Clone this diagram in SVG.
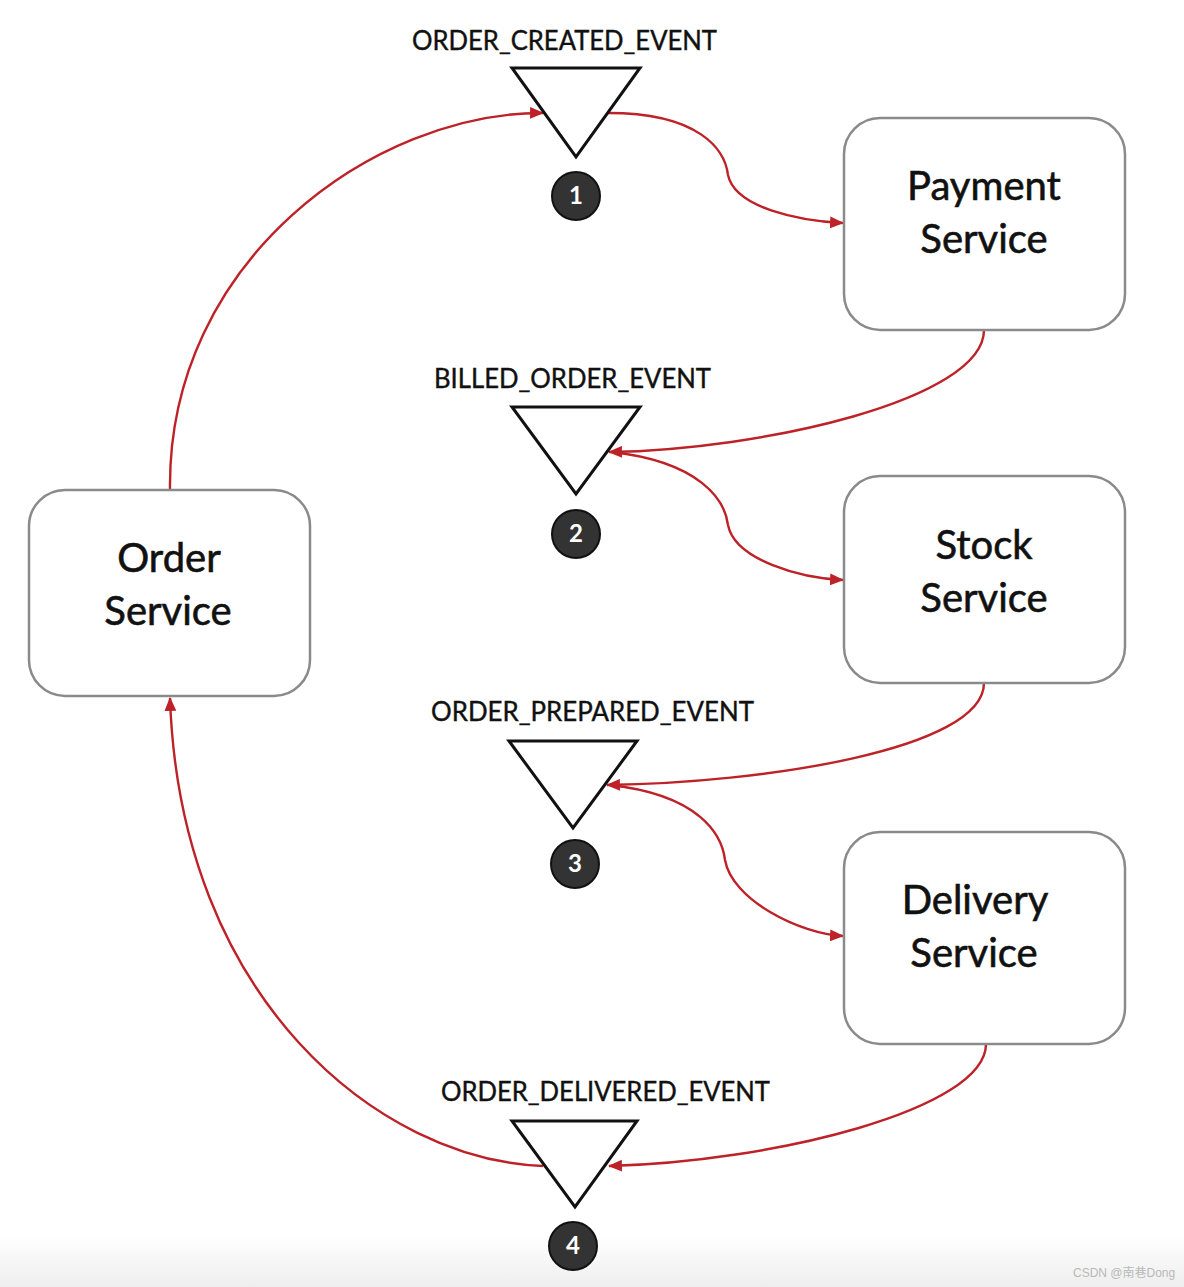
<svg xmlns="http://www.w3.org/2000/svg" width="1184" height="1287" viewBox="0 0 1184 1287">
<style>
.box{fill:#fff;stroke:#8a8a8a;stroke-width:2.5}
.tri{fill:#fff;stroke:#111;stroke-width:3;stroke-linejoin:miter}
.num{fill:#333;stroke:#111;stroke-width:2}
.numt{font-family:Lato,"Liberation Sans",sans-serif;font-weight:bold;font-size:24px;fill:#fff;text-anchor:middle}
.lbl{font-family:Lato,"Open Sans","Liberation Sans",sans-serif;font-size:26px;fill:#111;stroke:#111;stroke-width:0.4}
.svc{font-family:Lato,"Open Sans","Liberation Sans",sans-serif;font-size:40px;fill:#111;text-anchor:middle;stroke:#111;stroke-width:0.6}
.con{fill:none;stroke:#bd2228;stroke-width:2.4}
.wm{font-family:"Liberation Sans","Noto Sans CJK SC",sans-serif;font-size:12px;fill:#b8b8b8}
</style>
<defs>
<marker id="arr" viewBox="0 0 13 11" refX="12" refY="5.5" markerWidth="14" markerHeight="12" markerUnits="userSpaceOnUse" orient="auto">
<path d="M0,0 L13,5.5 L0,11 Z" fill="#bd2228"/>
</marker>
<linearGradient id="bot" x1="0" y1="0" x2="0" y2="1">
<stop offset="0" stop-color="#ffffff"/>
<stop offset="1" stop-color="#eeeeee"/>
</linearGradient>
</defs>
<rect width="1184" height="1287" fill="#fff"/>
<rect x="0" y="1235" width="1184" height="52" fill="url(#bot)"/>

<g id="connectors">
<path class="con" d="M170,490 C167,260 375,112 543,113" marker-end="url(#arr)"/>
<path class="con" d="M608,113 C700,113 725,150 728,175 C735,208 800,221 843,223" marker-end="url(#arr)"/>
<path class="con" d="M984,330 C984,400 760,450 609,452" marker-end="url(#arr)"/>
<path class="con" d="M612,452 C700,462 725,500 728,525 C735,560 800,578 843,580" marker-end="url(#arr)"/>
<path class="con" d="M984,683 C984,750 760,783 607,785" marker-end="url(#arr)"/>
<path class="con" d="M610,785 C700,795 722,835 725,860 C732,900 800,934 843,936" marker-end="url(#arr)"/>
<path class="con" d="M986,1044 C986,1110 770,1162 609,1166" marker-end="url(#arr)"/>
<path class="con" d="M543,1166 C380,1160 180,1000 170,698" marker-end="url(#arr)"/>
</g>

<g id="order-service">
<rect class="box" x="29" y="490" width="281" height="206" rx="36"/>
<text class="svc" x="169" y="572">Order</text>
<text class="svc" x="168" y="625">Service</text>
</g>
<g id="payment-service">
<rect class="box" x="844" y="118" width="281" height="212" rx="36"/>
<text class="svc" x="984" y="200">Payment</text>
<text class="svc" x="984" y="253">Service</text>
</g>
<g id="stock-service">
<rect class="box" x="844" y="476" width="281" height="207" rx="36"/>
<text class="svc" x="984" y="559">Stock</text>
<text class="svc" x="984" y="612">Service</text>
</g>
<g id="delivery-service">
<rect class="box" x="844" y="832" width="281" height="212" rx="36"/>
<text class="svc" x="975" y="914">Delivery</text>
<text class="svc" x="974" y="967">Service</text>
</g>

<g id="event-1">
<text class="lbl" x="412" y="50" textLength="305" lengthAdjust="spacingAndGlyphs">ORDER_CREATED_EVENT</text>
<polygon class="tri" points="512,68 640,68 576,157"/>
<circle class="num" cx="576" cy="196" r="24"/>
<text class="numt" x="576" y="204">1</text>
</g>
<g id="event-2">
<text class="lbl" x="434" y="388" textLength="277" lengthAdjust="spacingAndGlyphs">BILLED_ORDER_EVENT</text>
<polygon class="tri" points="512,407 640,407 576,494"/>
<circle class="num" cx="576" cy="534" r="24"/>
<text class="numt" x="576" y="542">2</text>
</g>
<g id="event-3">
<text class="lbl" x="431" y="721" textLength="323" lengthAdjust="spacingAndGlyphs">ORDER_PREPARED_EVENT</text>
<polygon class="tri" points="509,741 637,741 573,828"/>
<circle class="num" cx="575" cy="864" r="24"/>
<text class="numt" x="575" y="872">3</text>
</g>
<g id="event-4">
<text class="lbl" x="441" y="1101" textLength="329" lengthAdjust="spacingAndGlyphs">ORDER_DELIVERED_EVENT</text>
<polygon class="tri" points="512,1121 637,1121 575,1207"/>
<circle class="num" cx="573" cy="1246" r="24"/>
<text class="numt" x="573" y="1254">4</text>
</g>

<text class="wm" x="1073" y="1277">CSDN @南巷Dong</text>
</svg>
